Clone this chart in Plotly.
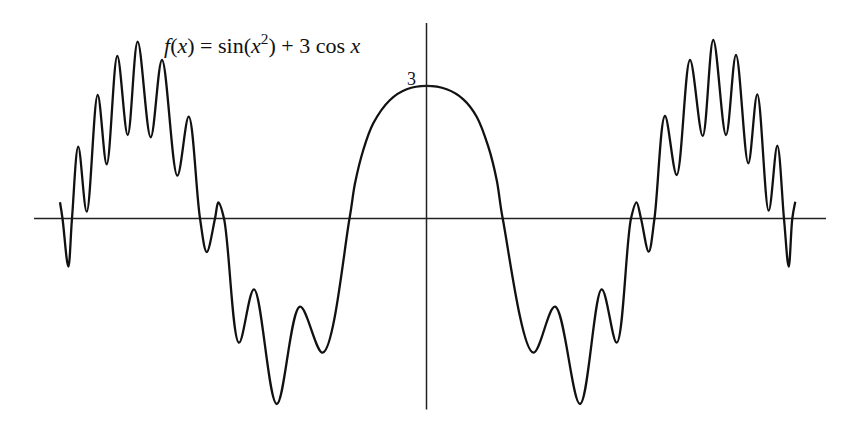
import plotly.graph_objects as go

# Points read off the reference graph of f(x) = sin(x^2) + 3 cos x
# (extrema, axis crossings and shoulder points), in graph units.
x_vals = [
    -7.916, -7.862, -7.737, -7.657, -7.521, -7.339, -7.102, -6.907, -6.678,
    -6.454, -6.238, -5.957, -5.713, -5.382, -5.136, -4.892, -4.747, -4.568,
    -4.497, -4.374, -4.050, -3.726, -3.235, -2.732, -2.242, -1.663,
    -1.544, -1.365, -1.149, -0.788, -0.428, 0.0,
    0.436, 0.795, 1.084, 1.335, 1.516, 1.646,
    2.307, 2.775, 3.315, 3.784, 4.108, 4.417, 4.536, 4.633, 4.799, 4.924,
    5.151, 5.404, 5.691, 5.965, 6.194, 6.469, 6.685, 6.950, 7.145, 7.391,
    7.577, 7.721, 7.823, 7.901, 7.965,
]
y_vals = [
    0.367, 0.0, -1.090, 0.0, 1.624, 0.154, 2.794, 1.226, 3.676,
    1.889, 4.000, 1.837, 3.586, 0.968, 2.303, 0.0, -0.758, 0.0,
    0.362, 0.0, -2.810, -1.602, -4.197, -1.995, -3.036, 0.0,
    0.796, 1.550, 2.154, 2.681, 2.923, 3.0,
    2.923, 2.697, 2.303, 1.624, 0.871, 0.0,
    -3.036, -1.995, -4.197, -1.602, -2.810, 0.0, 0.367, 0.0, -0.751, 0.0,
    2.319, 0.984, 3.586, 1.867, 4.038, 1.889, 3.699, 1.249, 2.810, 0.176,
    1.647, 0.0, -1.090, 0.0, 0.380,
]

title_text = "<i>f</i>(<i>x</i>) = sin(<i>x</i><sup>2</sup>) + 3 cos <i>x</i>"
peak_label = "3"

fig = go.Figure()
fig.add_trace(go.Scatter(
    x=x_vals, y=y_vals, mode="lines",
    line=dict(color="#111111", width=2.3, shape="spline", smoothing=1.0),
    hoverinfo="skip", showlegend=False,
))

axis_col = "#222222"
# horizontal axis
fig.add_shape(type="line", x0=-8.477, x1=8.629, y0=0, y1=0,
              line=dict(color=axis_col, width=1.5), layer="below")
# vertical axis
fig.add_shape(type="line", x0=0, x1=0, y0=-4.321, y1=4.423,
              line=dict(color=axis_col, width=1.5), layer="below")
# small tick at 3
fig.add_shape(type="line", x0=-0.11, x1=0.11, y0=3.0, y1=3.0,
              line=dict(color=axis_col, width=1.5))

fig.add_annotation(text=title_text, xref="paper", yref="paper",
                   x=0.309, y=0.898, xanchor="center", yanchor="middle",
                   showarrow=False,
                   font=dict(family="Liberation Serif", size=22, color="#111111"))
fig.add_annotation(text=peak_label, xref="paper", yref="paper",
                   x=0.4853, y=0.8159, xanchor="center", yanchor="middle",
                   showarrow=False,
                   font=dict(family="Liberation Serif", size=18, color="#111111"))

fig.update_layout(
    width=848, height=429, autosize=False,
    margin=dict(l=0, r=0, t=0, b=0),
    paper_bgcolor="white", plot_bgcolor="white",
    xaxis=dict(range=[-9.212, 9.104], visible=False, fixedrange=True),
    yaxis=dict(range=[-4.762, 4.943], visible=False, fixedrange=True),
)

fig.write_html("out.html",
               config={"displayModeBar": False, "staticPlot": True},
               post_script="document.body.style.margin='0';document.body.style.padding='0';")
